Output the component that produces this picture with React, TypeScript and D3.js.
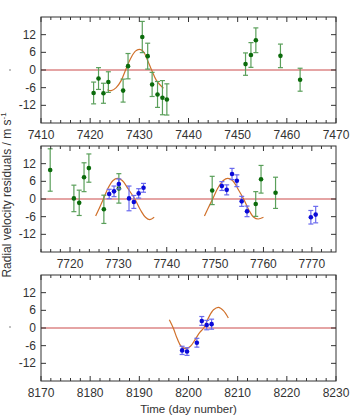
import React, { useRef, useEffect } from 'react';
import * as d3 from 'd3';

// panel 1 (green)
const p1Time = [7420.7, 7421.7, 7422.7, 7423.7, 7426.7, 7427.7, 7430.6, 7431.7, 7432.6, 7433.7, 7434.7, 7435.6, 7451.6, 7452.7, 7453.7, 7458.7, 7462.7];
const p1Rv = [-7.8, -2.9, -7.9, -4.1, -7.0, 1.3, 11.2, 4.7, -4.9, -8.3, -9.4, -10.0, 2.0, 5.1, 10.1, 4.8, -3.3];
const p1Err = [3.7, 3.7, 3.4, 3.5, 3.9, 4.3, 5.3, 4.4, 4.1, 4.4, 5.8, 5.3, 3.8, 4.2, 4.2, 4.0, 3.9];

// panel 2 (green + blue)
const p2GreenTime = [7715.9, 7720.8, 7721.9, 7722.9, 7723.9, 7727.0, 7730.1, 7749.4, 7758.4, 7759.5, 7762.5];
const p2GreenRv = [9.85, 0.2, -1.3, 7.4, 10.5, -3.5, 3.6, 2.9, -1.7, 6.7, 2.1];
const p2GreenErr = [7.2, 4.5, 4.3, 4.9, 4.8, 4.8, 5.0, 4.8, 4.2, 4.7, 5.3];
const p2BlueTime = [7728.1, 7729.1, 7730.1, 7732.2, 7733.2, 7734.2, 7735.2, 7751.4, 7752.4, 7753.5, 7754.5, 7755.5, 7756.6, 7769.8, 7770.8];
const p2BlueRv = [1.7, 2.6, 5.1, 0.2, -1.0, 1.9, 3.8, 4.4, 3.1, 8.5, 6.2, -0.8, -4.2, -6.2, -5.3];
const p2BlueErr = [1.6, 1.8, 1.7, 4.2, 2.2, 1.6, 1.5, 1.5, 1.7, 1.9, 2.0, 1.7, 1.8, 2.3, 2.8];

// panel 3 (blue)
const p3Time = [8198.7, 8199.7, 8201.7, 8202.7, 8203.7, 8204.7];
const p3Rv = [-7.6, -8.0, -5.0, 2.4, 1.0, 1.3];
const p3Err = [1.4, 1.3, 1.5, 1.5, 1.6, 1.7];

// model curves
const c1Time = [7423.5, 7424.3, 7425.3, 7426.3, 7427.2, 7428.2, 7429.2, 7430.0, 7430.8, 7431.6, 7432.5, 7433.5, 7434.9];
const c1Rv = [-6.7, -7.0, -6.0, -3.6, 0, 3.8, 6.4, 7.0, 6.3, 3.6, 0, -3.6, -6.2];
const c2aTime = [7725.3, 7726.1, 7726.9, 7727.9, 7728.9, 7729.8, 7730.8, 7732.0, 7733.4, 7734.6, 7735.6, 7736.5, 7737.4];
const c2aRv = [-5.8, -3.0, 0, 3.8, 6.3, 7.0, 6.3, 3.5, 0, -3.8, -6.2, -7.0, -6.2];
const c2bTime = [7747.8, 7748.6, 7749.5, 7750.6, 7751.7, 7752.6, 7753.6, 7754.7, 7755.9, 7757.0, 7758.0, 7758.9, 7760.0];
const c2bRv = [-5.8, -3.0, 0, 3.8, 6.3, 7.0, 6.3, 3.5, 0, -3.8, -6.2, -6.8, -6.2];
const c3Time = [8196.1, 8196.9, 8197.7, 8198.5, 8199.4, 8200.4, 8201.4, 8202.3, 8203.1, 8204.1, 8205.1, 8206.1, 8207.1, 8208.1];
const c3Rv = [2.8, 0, -3.6, -6.2, -7.0, -6.2, -3.8, -1.5, 0, 3.6, 6.2, 7.0, 5.9, 3.4];

const xDomains = [[7410, 7470], [7714, 7775], [8170, 8230]];
const xTickValues = [
  [7410, 7420, 7430, 7440, 7450, 7460, 7470],
  [7720, 7730, 7740, 7750, 7760, 7770],
  [8170, 8180, 8190, 8200, 8210, 8220, 8230],
];
const yTickValues = [-12, -6, 0, 6, 12];

const GREEN = '#0b6b0b';
const GREEN_BAR = '#5a9f5a';
const BLUE = '#0a0ad8';
const BLUE_BAR = '#6a6aee';
const CURVE = '#d0702a';
const ZERO = '#cc4a4a';

const App = () => {
  const svgRef = useRef(null);

  useEffect(() => {
    if (!svgRef.current) return;
    const svg = d3.select(svgRef.current);
    svg.selectAll('*').remove();

    const left = 41;
    const right = 336;
    const panelTops = [17, 146, 275];
    const panelH = 106;
    const font = 'Liberation Sans, Arial, sans-serif';

    const series = [
      {
        groups: [{ t: p1Time, v: p1Rv, e: p1Err, c: GREEN, b: GREEN_BAR }],
        curves: [[c1Time, c1Rv]],
      },
      {
        groups: [
          { t: p2GreenTime, v: p2GreenRv, e: p2GreenErr, c: GREEN, b: GREEN_BAR },
          { t: p2BlueTime, v: p2BlueRv, e: p2BlueErr, c: BLUE, b: BLUE_BAR },
        ],
        curves: [[c2aTime, c2aRv], [c2bTime, c2bRv]],
      },
      {
        groups: [{ t: p3Time, v: p3Rv, e: p3Err, c: BLUE, b: BLUE_BAR }],
        curves: [[c3Time, c3Rv]],
      },
    ];

    series.forEach((s, i) => {
      const top = panelTops[i];
      const x = d3.scaleLinear().domain(xDomains[i]).range([left, right]);
      const y = d3.scaleLinear().domain([-18, 18]).range([top + panelH, top]);
      const g = svg.append('g');

      g.append('rect')
        .attr('x', left).attr('y', top)
        .attr('width', right - left).attr('height', panelH)
        .attr('fill', 'white');

      // zero line
      g.append('line')
        .attr('x1', left).attr('x2', right)
        .attr('y1', y(0)).attr('y2', y(0))
        .attr('stroke', ZERO).attr('stroke-width', 1.2);

      // model curves
      const line = d3.line()
        .x(d => x(d[0]))
        .y(d => y(d[1]))
        .curve(d3.curveCatmullRom);
      s.curves.forEach(([ts, vs]) => {
        g.append('path')
          .attr('d', line(ts.map((t, k) => [t, vs[k]])))
          .attr('fill', 'none')
          .attr('stroke', CURVE)
          .attr('stroke-width', 1.2);
      });

      // error bars + points
      s.groups.forEach(grp => {
        const data = grp.t.map((t, k) => ({ t, v: grp.v[k], e: grp.e[k] }));
        const eb = g.append('g').attr('stroke', grp.b).attr('stroke-width', 1.2);
        data.forEach(d => {
          const cx = x(d.t);
          eb.append('line').attr('x1', cx).attr('x2', cx).attr('y1', y(d.v - d.e)).attr('y2', y(d.v + d.e));
          eb.append('line').attr('x1', cx - 2.5).attr('x2', cx + 2.5).attr('y1', y(d.v - d.e)).attr('y2', y(d.v - d.e));
          eb.append('line').attr('x1', cx - 2.5).attr('x2', cx + 2.5).attr('y1', y(d.v + d.e)).attr('y2', y(d.v + d.e));
        });
        g.selectAll(null)
          .data(data)
          .enter()
          .append('circle')
          .attr('cx', d => x(d.t))
          .attr('cy', d => y(d.v))
          .attr('r', 2.3)
          .attr('fill', grp.c);
      });

      // ticks (inward, on all sides)
      const ticks = g.append('g').attr('stroke', '#333').attr('stroke-width', 1);
      const minor = d3.range(xDomains[i][0], xDomains[i][1] + 0.01, 2).filter(v => Math.ceil(v) === v);
      minor.forEach(v => {
        const major = v % 10 === 0;
        const len = major ? 5 : 3;
        ticks.append('line').attr('x1', x(v)).attr('x2', x(v)).attr('y1', top + panelH).attr('y2', top + panelH - len);
        ticks.append('line').attr('x1', x(v)).attr('x2', x(v)).attr('y1', top).attr('y2', top + len);
      });
      yTickValues.forEach(v => {
        ticks.append('line').attr('x1', left).attr('x2', left + 5).attr('y1', y(v)).attr('y2', y(v));
        ticks.append('line').attr('x1', right).attr('x2', right - 5).attr('y1', y(v)).attr('y2', y(v));
      });

      // frame
      g.append('rect')
        .attr('x', left).attr('y', top)
        .attr('width', right - left).attr('height', panelH)
        .attr('fill', 'none').attr('stroke', '#333').attr('stroke-width', 1);

      // tick labels
      g.selectAll('.ylab')
        .data(yTickValues)
        .enter()
        .append('text')
        .attr('x', left - 5)
        .attr('y', d => y(d) + 4)
        .attr('text-anchor', 'end')
        .attr('font-family', font)
        .attr('font-size', 12)
        .attr('fill', '#333')
        .text(d => d);
      g.selectAll('.xlab')
        .data(xTickValues[i])
        .enter()
        .append('text')
        .attr('x', d => x(d))
        .attr('y', top + panelH + 16)
        .attr('text-anchor', 'middle')
        .attr('font-family', font)
        .attr('font-size', 12)
        .attr('fill', '#333')
        .text(d => d);
    });

    // stray dots left of panels 1 and 3
    [70, 327].forEach(yy => {
      svg.append('circle').attr('cx', 10).attr('cy', yy).attr('r', 0.7).attr('fill', '#555');
    });

    // axis titles
    const yl = svg.append('text')
      .attr('transform', 'translate(11,195) rotate(-90)')
      .attr('text-anchor', 'middle')
      .attr('font-family', font)
      .attr('font-size', 12)
      .attr('fill', '#333');
    yl.append('tspan').text('Radial velocity residuals / m s');
    yl.append('tspan').attr('dy', -5).attr('font-size', 8).text('-1');

    svg.append('text')
      .attr('x', (left + right) / 2)
      .attr('y', 413)
      .attr('text-anchor', 'middle')
      .attr('font-family', font)
      .attr('font-size', 11.5)
      .attr('fill', '#333')
      .text('Time (day number)');
  }, []);

  return (
    <svg
      ref={svgRef}
      width={352}
      height={419}
      style={{ position: 'absolute', left: 0, top: 0, background: 'white' }}
    ></svg>
  );
};

export default App;
